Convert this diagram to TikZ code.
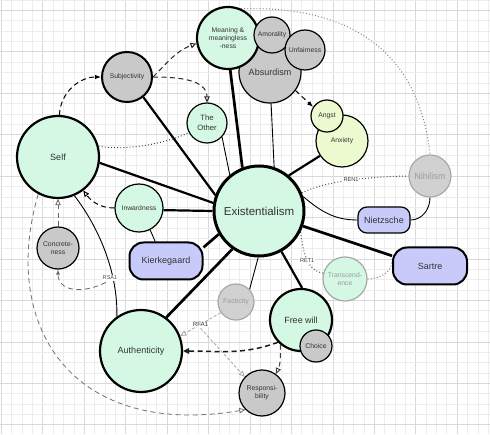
\documentclass[tikz,border=0pt]{standalone}
\usepackage{fontspec}
\setmainfont{Liberation Sans}
\usetikzlibrary{arrows.meta}
\definecolor{mintc}{HTML}{D4F8E3}
\definecolor{grayc}{HTML}{C9C9C9}
\definecolor{yelc}{HTML}{EDFACF}
\definecolor{bluec}{HTML}{C8CBFA}
\definecolor{txtc}{HTML}{333333}
\definecolor{fadetxt}{HTML}{9C9C9C}
\definecolor{fadeborder}{HTML}{A8A8A8}
\definecolor{gridminor}{HTML}{EDEDED}
\definecolor{gridmajor}{HTML}{D9D9D9}
\pgfdeclarelayer{gridl}
\pgfdeclarelayer{edgel}
\pgfsetlayers{gridl,edgel,main}
\begin{document}
\begin{tikzpicture}[x=1pt,y=1pt,
  cn/.style={circle,draw=black,inner sep=0pt,align=center,text=txtc,line width=1.2pt},
  rn/.style={rectangle,draw=black,inner sep=0pt,align=center,text=txtc,fill=bluec},
  mintf/.style={fill=mintc},
  grayf/.style={fill=grayc},
  yelf/.style={fill=yelc},
  fnt/.style={font=\fontsize{#1}{#1*1.2}\selectfont},
  bigf/.style={font=\fontsize{9}{10.5}\selectfont},
  smallf/.style={font=\fontsize{6.8}{8.2}\selectfont},
  thk/.style={line width=2.2pt},
  vthk/.style={line width=2.7pt},
  thn/.style={line width=0.9pt},
  dsh/.style={dash pattern=on 5pt off 3.5pt},
  dtt/.style={line width=1pt,dash pattern=on 0.9pt off 2.2pt},
  fillarr/.style={-{Latex[length=6pt,width=4.5pt]}},
  openarr/.style={-{Triangle[length=6pt,width=5.5pt,fill=white]}},
  rel/.style={fill=white,inner sep=0.6pt,text=txtc,font=\fontsize{5.6}{6.5}\selectfont}
]
\useasboundingbox (0,0) rectangle (490,434);
\begin{pgfonlayer}{gridl}
  \fill[white] (0,0) rectangle (490,434);
  \foreach \k in {0,...,47}{
    \pgfmathsetmacro{\xx}{1.3+\k*10.36}
    \pgfmathtruncatemacro{\mm}{mod(\k,4)}
    \ifnum\mm=0 \draw[gridmajor,line width=0.6pt] (\xx,0) -- (\xx,434);
    \else \draw[gridminor,line width=0.6pt] (\xx,0) -- (\xx,434); \fi
  }
  \foreach \k in {0,...,42}{
    \pgfmathsetmacro{\yy}{434-\k*10.36}
    \pgfmathtruncatemacro{\mm}{mod(\k,4)}
    \ifnum\mm=1 \draw[gridmajor,line width=0.6pt] (0,\yy) -- (490,\yy);
    \else \draw[gridminor,line width=0.6pt] (0,\yy) -- (490,\yy); \fi
  }
\end{pgfonlayer}

% nodes
\node[cn,grayf,minimum size=62pt,bigf] (absu) at (270,362) {Absurdism};
\node[cn,mintf,minimum size=62pt,line width=2.2pt,smallf] (mean) at (228,396) {Meaning \&\\meaningless\\-ness};
\node[cn,grayf,minimum size=36pt,smallf] (amor) at (272,399) {Amorality};
\node[cn,grayf,minimum size=40pt,smallf] (unf) at (305,384) {Unfairness};
\node[cn,mintf,minimum size=90pt,line width=3pt,font=\fontsize{11.5}{13}\selectfont] (ex) at (259,223) {Existentialism};
\node[cn,mintf,minimum size=82pt,line width=2.2pt,bigf] (self) at (58,277) {Self};
\node[cn,grayf,minimum size=50pt,line width=2pt,smallf] (subj) at (127,357) {Subjectivity};
\node[cn,mintf,minimum size=40pt,font=\fontsize{7.7}{10}\selectfont] (oth) at (207,311) {The\\Other};
\node[cn,yelf,minimum size=52pt,smallf] (anx) at (342,293) {Anxiety};
\node[cn,yelf,minimum size=32pt,smallf] (angst) at (327,318) {Angst};
\node[cn,fill=grayc!85!white,draw=fadeborder,text=fadetxt,minimum size=42pt,bigf] (nih) at (430,258) {Nihilism};
\node[rn,minimum width=52pt,minimum height=26pt,rounded corners=9pt,line width=1.2pt,bigf] (nie) at (384,214) {Nietzsche};
\node[cn,mintf,minimum size=48pt,smallf] (inw) at (139,226) {Inwardness};
\node[rn,minimum width=73pt,minimum height=37pt,rounded corners=14pt,line width=2pt,bigf] (kie) at (166,173) {Kierkegaard};
\node[cn,grayf,minimum size=42pt,smallf] (conc) at (58,186) {Concrete-\\ness};
\node[rn,minimum width=74pt,minimum height=37pt,rounded corners=14pt,line width=2pt,bigf] (sart) at (430,168) {Sartre};
\node[cn,fill=mintc,draw=fadeborder,text=fadetxt,minimum size=44pt,smallf] (trans) at (345,155) {Transcend-\\ence};
\node[cn,fill=grayc!85!white,draw=fadeborder,text=fadetxt,minimum size=36pt,font=\fontsize{7}{8}\selectfont] (fact) at (236,132) {Facticity};
\node[cn,mintf,minimum size=62pt,line width=2.2pt,bigf] (free) at (301,114) {Free will};
\node[cn,grayf,minimum size=32pt,smallf] (choice) at (316,88) {Choice};
\node[cn,grayf,minimum size=46pt,smallf] (resp) at (262,41) {Responsi-\\bility};
\node[cn,mintf,minimum size=82pt,line width=2.2pt,bigf] (auth) at (141,83) {Authenticity};

\begin{pgfonlayer}{edgel}
  % solid connectors from Existentialism
  \draw[thk] (ex.170) -- (self.-8);
  \draw[thk] (ex.160) -- (subj.-51);
  \draw[thk] (ex.180) -- (inw.-5);
  \draw[vthk] (ex.111) -- (mean.-86);
  \draw[thn] (ex.71) -- (absu.-88);
  \draw[thn] (ex.129) -- (oth.-43);
  \draw[thk] (ex.50) -- (anx.214);
  \draw[vthk] (ex.-19) -- (sart.165);
  \draw[thk] (ex.-61) -- (free.88);
  \draw[thn] (ex.-91) -- (fact.43);
  \draw[vthk] (ex.-125) -- (auth.53);
  \draw[vthk] (ex.210) -- (kie.20);
  \draw[thn] (inw.-63) -- (kie.119);
  \draw[thn] (ex.18) to[out=-40,in=180] (nie.west);
  \draw[thn] (nie.east) to[out=0,in=-90] (nih.south);
  % Self - Authenticity
  \draw[thn] (self.-67) .. controls (100,205) and (118,160) .. coordinate[pos=0.7] (rsa) (auth.125);
  % dotted relations
  \draw[dtt,black!70] (ex.23) .. controls (325,252) and (360,257) .. node[rel,pos=0.55] {REN1} (nih.west);
  \draw[dtt,black!70] (ex.-27) to[out=-80,in=170] node[rel,pos=0.55] {RET1} (trans.165);
  \draw[dtt,black!55] (trans.east) to[out=0,in=-90] (sart.172);
  \draw[dtt,black!50] (mean.66) .. controls (360,429) and (420,374) .. (nih.north);
  \draw[dtt,black!75] (self.15) .. controls (125,283) and (165,290) .. (oth.208);
  % dashed relations
  \draw[dsh,line width=1pt,fillarr] (self.88) to[out=88,in=180] (subj.west);
  \draw[dsh,line width=1pt,black!85,openarr] (subj.east) to[out=45,in=200] (mean.190);
  \draw[dsh,line width=1pt,black!85,openarr] (subj.east) to[out=0,in=90] (oth.north);
  \draw[dsh,line width=1pt,fillarr] (absu.-36) -- (angst.147);
  \draw[dsh,line width=1pt,openarr] (inw.180) to[out=180,in=-53] (self.-53);
  \draw[dsh,line width=0.8pt,black!60,openarr] (conc.north) -- (self.south);
  \draw[dsh,line width=0.8pt,black!60,-{Latex[length=5pt,width=4pt]}] (rsa) .. controls (90,140) and (58,140) .. (conc.south);
  \node[rel,text=black!70] at ([xshift=-3pt]rsa) {RSA1};
  \draw[dsh,line width=0.8pt,black!55,openarr] (self.-118) .. controls (0,110) and (70,-5) .. (resp.225);
  \draw[dsh,line width=1.5pt,black!90,openarr] (free.224) to[out=200,in=0] (auth.east);
  \draw[dsh,line width=1pt,black!75,openarr] (free.230) to[out=-90,in=65] (resp.54);
  \draw[dash pattern=on 3pt off 2pt,line width=0.8pt,black!35,openarr] (fact.215) -- coordinate[pos=0.5] (rfa) (auth.21);
  \draw[dash pattern=on 3pt off 2pt,line width=0.8pt,black!35,openarr] ([yshift=-4pt]rfa) -- (resp.137);
  \node[rel,font=\fontsize{6.2}{7}\selectfont] at (rfa) {RFA1};
\end{pgfonlayer}
\end{tikzpicture}
\end{document}
